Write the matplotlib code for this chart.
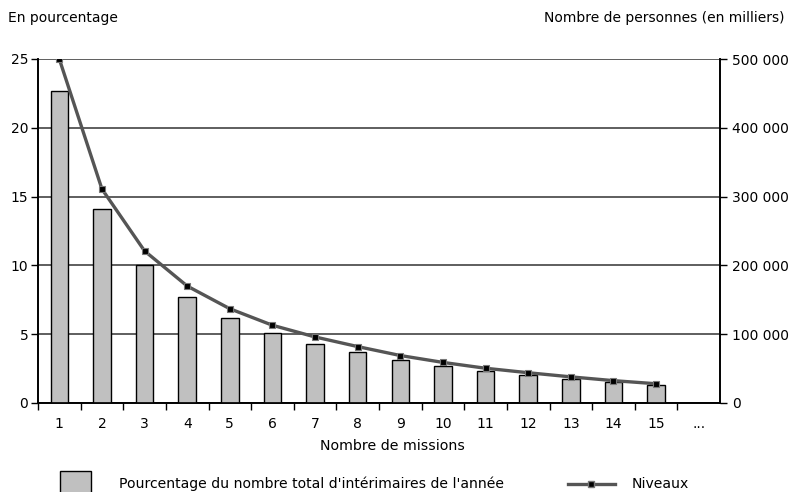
import numpy as np
import matplotlib
matplotlib.use("Agg")
import matplotlib.pyplot as plt
from matplotlib.patches import Rectangle
from matplotlib.lines import Line2D

plt.rcParams['font.family'] = ['DejaVu Sans']

# données
missions = ["1", "2", "3", "4", "5", "6", "7", "8", "9", "10",
            "11", "12", "13", "14", "15", "..."]
pourcentage = [22.7, 14.1, 10.0, 7.7, 6.2, 5.1, 4.3, 3.7, 3.1, 2.7,
               2.3, 2.0, 1.75, 1.5, 1.3]
niveaux = [500000, 311000, 221000, 170000, 137000, 113000, 96000, 82000,
           69000, 59000, 50500, 44000, 38000, 32500, 28000]

fig = plt.figure(figsize=(7.89, 4.92), dpi=100)
ax = fig.add_axes([38 / 789, 1 - 403 / 492, 682 / 789, 344 / 492])
ax2 = ax.twinx()

x = np.arange(len(missions))
ax.bar(x[:len(pourcentage)], pourcentage, width=0.41, color="#c0c0c0",
       edgecolor="black", linewidth=1.0, zorder=3)
ax.set_ylim(0, 25)
ax.set_yticks([0, 5, 10, 15, 20, 25])
ax.set_xlim(-0.5, len(missions) - 0.5)
ax.set_xticks(x)
ax.set_xticklabels(missions)
ax.set_xticks(np.arange(len(missions)) - 0.5, minor=True)
ax.tick_params(axis="x", which="major", length=0, pad=10, labelsize=10)
ax.tick_params(axis="x", which="minor", length=5, width=1, direction="out")
ax.tick_params(axis="y", length=5, width=1, labelsize=10, pad=2)
ax.yaxis.grid(True, color="#333333", linewidth=1.1, zorder=0)
ax.set_axisbelow(True)
ax.spines["top"].set_visible(False)

ax2.plot(x[:len(niveaux)], niveaux, color="#555555", linewidth=2.4,
         marker="s", markersize=4.5, markerfacecolor="black",
         markeredgecolor="#777777", markeredgewidth=0.8, zorder=4)
ax2.set_ylim(0, 500000)
ax2.set_yticks([0, 100000, 200000, 300000, 400000, 500000])
ax2.set_yticklabels(["0", "100 000", "200 000", "300 000", "400 000", "500 000"])
ax2.tick_params(axis="y", length=5, width=1, labelsize=10, pad=4)
ax2.spines["top"].set_visible(False)
for s in ["left", "right", "bottom"]:
    ax.spines[s].set_linewidth(1.2)
    ax2.spines[s].set_linewidth(1.2)

fig.text(8 / 789, 1 - 18 / 492, "En pourcentage", fontsize=10, va="center")
fig.text(785 / 789, 1 - 18 / 492, "Nombre de personnes (en milliers)",
         fontsize=10, va="center", ha="right")
fig.text(392 / 789, 1 - 446 / 492, "Nombre de missions", fontsize=10.2,
         va="center", ha="center")

# légende faite à la main
fig.patches.append(Rectangle((60 / 789, 1 - 494 / 492), 31 / 789, 23 / 492,
                             transform=fig.transFigure, facecolor="#c0c0c0",
                             edgecolor="black", linewidth=1))
fig.text(119 / 789, 1 - 484 / 492,
         "Pourcentage du nombre total d'intérimaires de l'année",
         fontsize=10.1, va="center")
fig.lines.append(Line2D([568 / 789, 615 / 789], [1 - 484 / 492, 1 - 484 / 492],
                        transform=fig.transFigure, color="#555555", linewidth=2.4))
fig.lines.append(Line2D([591 / 789], [1 - 484 / 492], transform=fig.transFigure,
                        color="#555555", marker="s", markersize=4.5,
                        markerfacecolor="black", markeredgecolor="#777777",
                        linestyle="none"))
fig.text(632 / 789, 1 - 484 / 492, "Niveaux", fontsize=10.1, va="center")

fig.savefig("out.png", dpi=100)
